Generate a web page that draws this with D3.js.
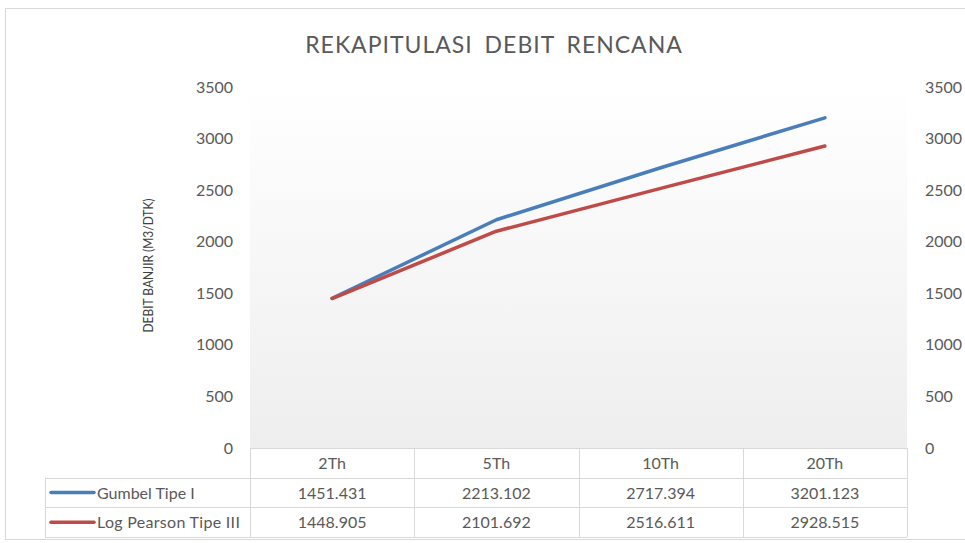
<!DOCTYPE html>
<html><head><meta charset="utf-8">
<script src="https://cdn.jsdelivr.net/npm/d3@7"></script>
<style>
html,body{margin:0;padding:0;background:#fff;}
svg{display:block;font-family:"Lato","Open Sans",sans-serif;}
</style></head>
<body>
<svg id="chart" width="965" height="543"></svg>
<script>
const categories = ["2Th", "5Th", "10Th", "20Th"];
const seriesNames = ["Gumbel Tipe I", "Log Pearson Tipe III"];
const gumbel = [1451.431, 2213.102, 2717.394, 3201.123];
const logPearson = [1448.905, 2101.692, 2516.611, 2928.515];
const yTicks = [0, 500, 1000, 1500, 2000, 2500, 3000, 3500];
const colors = ["#4a7ebb", "#be4b48"];

const svg = d3.select("#chart");
const W = 965, H = 543;
const plot = {left: 250, right: 907, top: 87, bottom: 448};
const rowH = 29.7;

// outer frame
svg.append("rect").attr("x", 5.5).attr("y", 8.5).attr("width", W).attr("height", H - 12)
  .attr("fill", "#fff").attr("stroke", "#d9d9d9").attr("stroke-width", 1);

// gradient
const defs = svg.append("defs");
const grad = defs.append("linearGradient").attr("id", "bg").attr("x1", 0).attr("y1", 0).attr("x2", 0).attr("y2", 1);
grad.append("stop").attr("offset", "0%").attr("stop-color", "#ffffff");
grad.append("stop").attr("offset", "100%").attr("stop-color", "#eeeeee");

const x = d3.scaleBand().domain(categories).range([plot.left, plot.right]);
const y = d3.scaleLinear().domain([0, 3500]).range([plot.bottom, plot.top]);

svg.append("rect").attr("x", plot.left).attr("y", plot.top)
  .attr("width", plot.right - plot.left).attr("height", plot.bottom - plot.top)
  .attr("fill", "url(#bg)");

// title
svg.append("text").attr("x", 494).attr("y", 53).attr("text-anchor", "middle")
  .attr("font-size", 23).attr("fill", "#595959").attr("letter-spacing", 1)
  .attr("word-spacing", 5).text("REKAPITULASI DEBIT RENCANA");

// left axis
const tickFmt = d3.format("d");
const leftAxis = d3.axisLeft(y).tickValues(yTicks).tickFormat(tickFmt).tickSize(0).tickPadding(17);
const gl = svg.append("g").attr("transform", `translate(${plot.left},0)`).call(leftAxis);
gl.select(".domain").remove();
gl.selectAll("text").attr("font-size", 16).attr("fill", "#595959").attr("font-family", "Lato");

// right axis
const rightAxis = d3.axisRight(y).tickValues(yTicks).tickFormat(tickFmt).tickSize(0).tickPadding(18);
const gr = svg.append("g").attr("transform", `translate(${plot.right},0)`).call(rightAxis);
gr.select(".domain").remove();
gr.selectAll("text").attr("font-size", 16).attr("fill", "#595959").attr("font-family", "Lato");

// y axis title
svg.append("text").attr("transform", `translate(153,${(plot.top + plot.bottom) / 2 - 2}) rotate(-90)`)
  .attr("text-anchor", "middle").attr("font-size", 14).attr("fill", "#404040")
  .attr("textLength", 134).attr("lengthAdjust", "spacingAndGlyphs")
  .text("DEBIT BANJIR (M3/DTK)");

// lines
const line = d3.line().x((d, i) => x(categories[i]) + x.bandwidth() / 2).y(d => y(d));
[gumbel, logPearson].forEach((s, k) => {
  svg.append("path").datum(s).attr("d", line).attr("fill", "none")
    .attr("stroke", colors[k]).attr("stroke-width", 3.5).attr("stroke-linecap", "round")
    .attr("stroke-linejoin", "round");
});

// data table
const tbl = svg.append("g");
const gridColor = "#d9d9d9";
const legendLeft = 45;
const rowsY = [plot.bottom, plot.bottom + rowH, plot.bottom + 2 * rowH, plot.bottom + 3 * rowH];
tbl.append("line").attr("x1", plot.left).attr("x2", plot.right).attr("y1", rowsY[0] + 0.5).attr("y2", rowsY[0] + 0.5).attr("stroke", gridColor);
[1, 2, 3].forEach(r => {
  tbl.append("line").attr("x1", legendLeft).attr("x2", plot.right)
    .attr("y1", Math.round(rowsY[r]) + 0.5).attr("y2", Math.round(rowsY[r]) + 0.5).attr("stroke", gridColor);
});
categories.concat(["end"]).forEach((c, i) => {
  const xx = i < categories.length ? x(c) : plot.right;
  tbl.append("line").attr("x1", Math.round(xx) + 0.5).attr("x2", Math.round(xx) + 0.5)
    .attr("y1", rowsY[0]).attr("y2", rowsY[3]).attr("stroke", gridColor);
});
tbl.append("line").attr("x1", legendLeft + 0.5).attr("x2", legendLeft + 0.5)
  .attr("y1", rowsY[1]).attr("y2", rowsY[3]).attr("stroke", gridColor);

categories.forEach(c => {
  tbl.append("text").attr("x", x(c) + x.bandwidth() / 2).attr("y", rowsY[0] + rowH / 2 + 6)
    .attr("text-anchor", "middle").attr("font-size", 16).attr("fill", "#595959").text(c);
});
const fmt = d3.format(".3f");
[gumbel, logPearson].forEach((s, k) => {
  const cy = rowsY[k + 1] + rowH / 2;
  tbl.append("line").attr("x1", 51).attr("x2", 94).attr("y1", cy).attr("y2", cy)
    .attr("stroke", colors[k]).attr("stroke-width", 3.5).attr("stroke-linecap", "round");
  tbl.append("text").attr("x", 97).attr("y", cy + 6).attr("font-size", 16).attr("fill", "#595959")
    .attr("letter-spacing", k === 1 ? 0.3 : 0).text(seriesNames[k]);
  s.forEach((v, i) => {
    tbl.append("text").attr("x", x(categories[i]) + x.bandwidth() / 2).attr("y", cy + 6)
      .attr("text-anchor", "middle").attr("font-size", 16).attr("fill", "#595959").text(fmt(v));
  });
});
</script>
</body></html>
